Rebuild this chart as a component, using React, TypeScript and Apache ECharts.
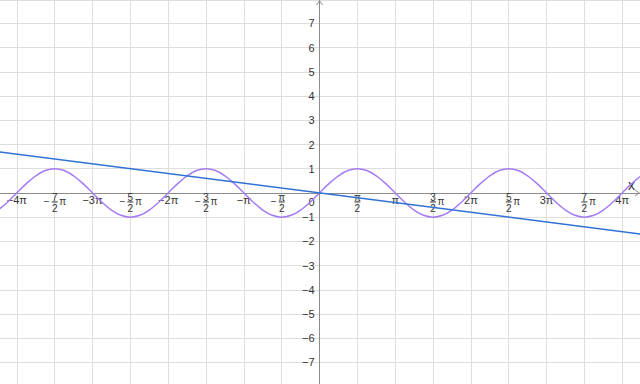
import React, { useEffect, useRef } from 'react';
import * as echarts from 'echarts';

// x values are in units of π/2
const xTickValues = [-8, -7, -6, -5, -4, -3, -2, -1, 0, 1, 2, 3, 4, 5, 6, 7, 8];
const xTickLabels = [
  '−4π', '−7/2 π', '−3π', '−5/2 π', '−2π', '−3/2 π', '−π', '−π/2', '',
  'π/2', 'π', '3/2 π', '2π', '5/2 π', '3π', '7/2 π', '4π',
];

const sineU = [
  -9, -8.75, -8.5, -8.25, -8, -7.75, -7.5, -7.25, -7, -6.75, -6.5, -6.25,
  -6, -5.75, -5.5, -5.25, -5, -4.75, -4.5, -4.25, -4, -3.75, -3.5, -3.25,
  -3, -2.75, -2.5, -2.25, -2, -1.75, -1.5, -1.25, -1, -0.75, -0.5, -0.25,
  0, 0.25, 0.5, 0.75, 1, 1.25, 1.5, 1.75, 2, 2.25, 2.5, 2.75,
  3, 3.25, 3.5, 3.75, 4, 4.25, 4.5, 4.75, 5, 5.25, 5.5, 5.75,
  6, 6.25, 6.5, 6.75, 7, 7.25, 7.5, 7.75, 8, 8.25, 8.5, 8.75, 9,
];
const sineY = [
  -1, -0.924, -0.707, -0.383, 0, 0.383, 0.707, 0.924, 1, 0.924, 0.707, 0.383,
  0, -0.383, -0.707, -0.924, -1, -0.924, -0.707, -0.383, 0, 0.383, 0.707, 0.924,
  1, 0.924, 0.707, 0.383, 0, -0.383, -0.707, -0.924, -1, -0.924, -0.707, -0.383,
  0, 0.383, 0.707, 0.924, 1, 0.924, 0.707, 0.383, 0, -0.383, -0.707, -0.924,
  -1, -0.924, -0.707, -0.383, 0, 0.383, 0.707, 0.924, 1, 0.924, 0.707, 0.383,
  0, -0.383, -0.707, -0.924, -1, -0.924, -0.707, -0.383, 0, 0.383, 0.707, 0.924, 1,
];

const lineU = [-9, 9];
const lineY = [1.8, -1.8];

const X_MIN = -9;
const X_MAX = 8.47;
const Y_MIN = -8;
const Y_MAX = 7.97;

const FONT = '"Liberation Sans", Arial, sans-serif';
const TXT = '#333333';
const AXIS = '#8c8c8c';
const GRID = '#dedede';
const CHEVRON = 'path://M0,10L7,0L14,10L12,10L7,2.9L2,10Z';

function xLabel(v: number): string {
  const i = xTickValues.indexOf(Math.round(v));
  if (i < 0 || Math.abs(v - Math.round(v)) > 1e-6) return '';
  const t = xTickLabels[i];
  if (!t) return '';
  const m = t.match(/^(−?)([^/]+)\/(\d+)( π)?$/);
  if (!m) return `{i|${t}}`;
  const sign = m[1];
  const num = m[2];
  const den = m[3];
  const pi = m[4];
  const left = sign ? '{s|−}' : '{e| }';
  const right = pi ? '{p|π}' : '{e| }';
  return `{n1|${num}}\n${left}{bar| }${right}\n{n2|${den}}`;
}

function yLabel(v: number): string {
  if (Math.abs(v - Math.round(v)) > 1e-6) return '';
  if (v === 0) return '{z|0}';
  return v < 0 ? `−${Math.abs(v)}` : `${v}`;
}

export default function App() {
  const ref = useRef<HTMLDivElement>(null);
  useEffect(() => {
    document.body.style.margin = '0';
    if (!ref.current) return;
    const chart = echarts.init(ref.current, undefined, { renderer: 'svg' });
    const sineData = sineU.map((u, i) => [u, sineY[i]]);
    const lineData = lineU.map((u, i) => [u, lineY[i]]);
    chart.setOption({
      animation: false,
      backgroundColor: '#ffffff',
      grid: {
        left: -21,
        right: 0,
        top: 0,
        bottom: -2.6,
        containLabel: false,
        outerBoundsMode: 'none',
      },
      xAxis: {
        type: 'value',
        min: X_MIN,
        max: X_MAX,
        interval: 1,
        position: 'bottom',
        offset: 0,
        name: 'x',
        nameLocation: 'end',
        nameGap: -12,
        nameTextStyle: {
          color: TXT,
          fontSize: 14,
          fontFamily: FONT,
          align: 'left',
          verticalAlign: 'bottom',
          padding: [0, 0, 1, 0],
        },
        axisLine: {
          onZero: false,
          lineStyle: { color: AXIS, width: 1 },
          symbol: ['none', CHEVRON],
          symbolSize: [7, 5],
          symbolOffset: [0, -2.5],
        },
        axisTick: { show: false },
        splitLine: { show: true, lineStyle: { color: GRID, width: 1 } },
        axisLabel: {
          showMinLabel: false,
          showMaxLabel: false,
          margin: 2,
          color: TXT,
          fontFamily: FONT,
          formatter: xLabel,
          rich: {
            i: { fontSize: 11, lineHeight: 10, fontFamily: FONT, color: TXT },
            n1: { fontSize: 10, lineHeight: 6, width: 6, align: 'center', fontFamily: FONT, color: TXT },
            n2: { fontSize: 10, lineHeight: 11, width: 6, align: 'center', fontFamily: FONT, color: TXT },
            s: { fontSize: 10, lineHeight: 2, width: 10, align: 'center', fontFamily: FONT, color: TXT },
            p: { fontSize: 10, lineHeight: 2, width: 10, align: 'center', fontFamily: FONT, color: TXT },
            e: { fontSize: 1, lineHeight: 2, width: 10, fontFamily: FONT, color: 'rgba(0,0,0,0)' },
            bar: { fontSize: 1, height: 1, lineHeight: 2, width: 6, backgroundColor: TXT, color: 'rgba(0,0,0,0)' },
          },
        },
      },
      yAxis: {
        type: 'value',
        min: Y_MIN,
        max: Y_MAX,
        interval: 1,
        position: 'left',
        offset: 0,
        axisLine: {
          onZero: false,
          lineStyle: { color: AXIS, width: 1 },
          symbol: ['none', CHEVRON],
          symbolSize: [7, 5],
          symbolOffset: [0, -2.5],
        },
        axisTick: { show: false },
        splitLine: { show: true, lineStyle: { color: GRID, width: 1 } },
        axisLabel: {
          showMinLabel: false,
          showMaxLabel: false,
          margin: 5,
          color: TXT,
          fontSize: 11,
          fontFamily: FONT,
          formatter: yLabel,
          rich: {
            z: { fontSize: 11, fontFamily: FONT, color: TXT, padding: [18, 0, 0, 0] },
          },
        },
      },
      series: [
        {
          name: 'sin',
          type: 'line',
          data: sineData,
          showSymbol: false,
          smooth: 0.33,
          lineStyle: { color: '#a47cf4', width: 1.5 },
          z: 3,
        },
        {
          name: 'line',
          type: 'line',
          data: lineData,
          showSymbol: false,
          lineStyle: { color: '#2f72d6', width: 1.5 },
          z: 4,
        },
      ],
    });
    // Move both axes (line and labels) so that they cross at the origin.
    const origin = chart.convertToPixel({ gridIndex: 0 }, [0, 0]) as number[];
    const corner = chart.convertToPixel({ gridIndex: 0 }, [X_MIN, Y_MIN]) as number[];
    chart.setOption({
      xAxis: { offset: -(corner[1] - origin[1]) },
      yAxis: { offset: -(origin[0] - corner[0]) },
    });
    return () => chart.dispose();
  }, []);
  return (
    <div
      ref={ref}
      style={{ position: 'absolute', left: 0, top: 0, width: 640, height: 384 }}
    />
  );
}
